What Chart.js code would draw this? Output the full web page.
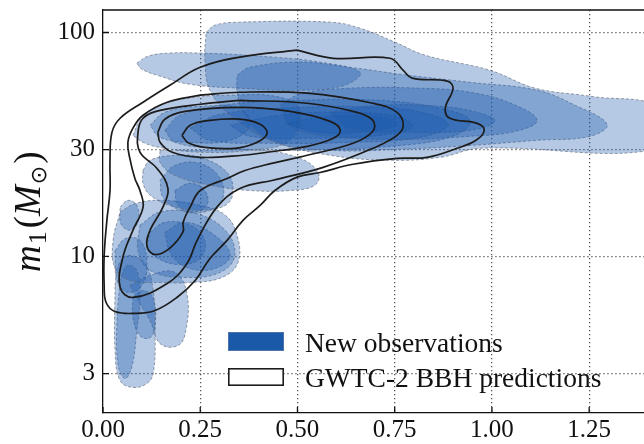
<!DOCTYPE html>
<html>
<head>
<meta charset="utf-8">
<script src="https://cdn.jsdelivr.net/npm/chart.js@4.4.1/dist/chart.umd.min.js"></script>
<style>
  html, body { margin: 0; padding: 0; background: #fff; overflow: hidden; }
  #wrap { width: 644px; height: 444px; }
</style>
</head>
<body>
<div id="wrap"><canvas id="c" width="644" height="444"></canvas></div>
<script>
// Axis ticks
const xTicks = [0, 0.25, 0.5, 0.75, 1.0, 1.25];
const yTicks = [3, 10, 30, 100];
const legendLabels = ['New observations', 'GWTC-2 BBH predictions'];

// New observations: credible regions, [x, m1] vertices of each closed region
const obsWideTail = [[0.265,100],[0.288,107.8],[0.352,111.2],[0.584,111.2],[0.661,104.5],[0.751,90.5],[0.828,79.2],[0.995,67.8],[1.111,56.4],[1.253,51.9],[1.433,45.8],[1.433,30.4],[0.970,30.4],[0.867,27.7],[0.738,26.9],[0.584,28.3],[0.430,33.0],[0.327,42.7],[0.275,55.2],[0.262,75.2]];
const obsUpperStreak = [[0.087,72.9],[0.116,78.4],[0.172,80.9],[0.25,80.9],[0.404,78.4],[0.558,73.7],[0.661,66.4],[0.622,58.1],[0.507,55.2],[0.352,56.4],[0.224,58.7],[0.147,63.8],[0.100,68.5]];
const obsLongEllipse = [[0.345,64.4],[0.378,69.9],[0.507,73.7],[0.635,69.9],[0.764,65.1],[0.944,59.9],[1.116,55.2],[1.214,47.3],[1.296,38.9],[1.253,34.4],[1.116,33.0],[0.944,31.3],[0.764,30.1],[0.584,29.8],[0.430,33.0],[0.365,42.7],[0.345,54.1]];
const obsMidEllipse = [[0.455,47.3],[0.507,53.0],[0.635,56.4],[0.815,56.4],[0.944,54.1],[1.055,47.8],[1.116,40.5],[1.060,36.2],[0.944,34.4],[0.764,33.3],[0.584,34.4],[0.481,38.1]];
const obsRightCore = [[0.584,44.0],[0.712,47.3],[0.867,46.8],[0.970,43.6],[1.008,40.1],[0.944,36.6],[0.790,35.8],[0.635,37.2]];
const obsLeftLobe = [[0.077,34.7],[0.095,40.5],[0.134,46.3],[0.211,50.7],[0.327,52.5],[0.455,51.4],[0.507,44.9],[0.481,33.0],[0.378,29.8],[0.25,29.2],[0.159,30.4],[0.108,32.0]];
const obsBand1 = [[0.159,36.6],[0.198,42.7],[0.327,47.8],[0.507,49.8],[0.712,49.8],[0.867,45.8],[0.944,40.5],[0.905,34.7],[0.764,31.3],[0.507,29.8],[0.301,30.4],[0.185,32.3]];
const obsBand2 = [[0.224,37.4],[0.301,43.1],[0.507,46.3],[0.712,46.3],[0.841,43.1],[0.887,38.5],[0.815,34.0],[0.635,32.3],[0.430,32.0],[0.275,33.0]];
const obsBand3 = [[0.327,38.5],[0.455,42.7],[0.635,44.0],[0.764,41.8],[0.795,37.8],[0.712,34.7],[0.532,33.7],[0.378,34.4]];
const obsBand4 = [[0.468,39.3],[0.584,42.2],[0.712,41.8],[0.756,38.9],[0.687,36.2],[0.558,35.8]];
const obsBandLeft = [[0.121,38.5],[0.159,44.0],[0.25,46.8],[0.352,45.8],[0.378,38.5],[0.327,33.0],[0.224,32.3],[0.147,34.0]];
const obsHanging = [[0.147,29.8],[0.25,29.8],[0.404,29.8],[0.507,27.4],[0.553,23.7],[0.545,20.8],[0.481,19.7],[0.378,19.7],[0.275,20.8],[0.185,23.0],[0.147,26.3]];
const obsLowTop = [[0.103,24.2],[0.121,26.9],[0.190,28.3],[0.25,27.7],[0.319,23.7],[0.334,19.3],[0.314,16.9],[0.25,16.1],[0.172,16.9],[0.121,18.8],[0.103,21.2]];
const obsLowTopMid = [[0.147,21.9],[0.185,25.5],[0.25,26.0],[0.301,22.3],[0.306,17.8],[0.262,15.8],[0.198,16.1],[0.154,18.4]];
const obsLowTopCore = [[0.185,19.7],[0.224,21.2],[0.262,19.7],[0.267,16.9],[0.231,15.8],[0.193,16.9]];
const obsLowWide = [[0.044,15.8],[0.082,17.2],[0.147,17.8],[0.25,16.9],[0.314,15.3],[0.345,12.4],[0.347,9.4],[0.306,8.06],[0.224,7.65],[0.147,7.65],[0.069,7.81],[0.031,8.84],[0.026,11.8]];
const obsLowMid = [[0.095,13.8],[0.147,15.8],[0.237,15.6],[0.314,13.1],[0.339,10.1],[0.301,8.49],[0.211,8.06],[0.121,8.66],[0.090,10.6]];
const obsLowCore = [[0.121,12.8],[0.159,14.2],[0.224,13.8],[0.262,11.8],[0.25,9.8],[0.198,9.2],[0.141,9.8],[0.116,11.0]];
const obsLowCoreRight = [[0.159,12.8],[0.211,14.2],[0.288,12.4],[0.327,10.1],[0.288,8.84],[0.224,8.84],[0.177,10.1]];
const obsLowSmall = [[0.044,16.6],[0.064,17.8],[0.087,16.9],[0.090,14.2],[0.069,13.1],[0.046,14.0]];
const obsTallLight = [[0.031,7.42],[0.039,9.1],[0.064,10.1],[0.108,9.3],[0.129,7.05],[0.134,4.43],[0.129,3.0],[0.113,2.71],[0.077,2.60],[0.044,2.79],[0.031,3.80]];
const obsLowSpread = [[0.069,7.42],[0.121,8.23],[0.185,8.49],[0.216,6.77],[0.213,4.67],[0.193,4.00],[0.147,4.08],[0.121,5.17],[0.090,6.36]];
const obsNarrowStrip = [[0.044,7.81],[0.062,9.1],[0.087,8.66],[0.095,6.36],[0.087,4.67],[0.075,3.26],[0.057,2.85],[0.039,3.26],[0.036,5.17]];
const obsStripCore = [[0.077,6.56],[0.103,7.05],[0.129,6.49],[0.134,4.91],[0.121,4.34],[0.095,4.43],[0.077,5.34]];
const obsLowLeft = [[0.031,10.6],[0.057,12.0],[0.095,11.8],[0.113,9.4],[0.100,7.42],[0.064,6.91],[0.036,7.81]];

// GWTC-2 BBH predictions: density contour levels, outermost first
const predLevel1 = [[0.499,83.4],[0.592,76.7],[0.738,76.7],[0.772,67.8],[0.795,62.5],[0.885,60.6],[0.900,56.4],[0.880,45.8],[0.892,41.4],[0.962,39.3],[0.980,36.6],[0.959,33.0],[0.910,30.4],[0.833,27.7],[0.756,27.4],[0.643,25.8],[0.558,23.7],[0.499,22.6],[0.442,19.7],[0.404,16.9],[0.360,14.5],[0.319,11.8],[0.275,9.8],[0.237,7.81],[0.190,6.56],[0.134,5.74],[0.082,5.57],[0.031,5.68],[0.008,6.23],[0.003,7.42],[0.003,10.1],[0.010,14.5],[0.018,19.7],[0.018,26.9],[0.023,35.8],[0.044,41.4],[0.103,48.8],[0.172,58.1],[0.25,69.9],[0.352,77.6]];
const predLevel2 = [[0.25,52.5],[0.352,54.1],[0.525,53.6],[0.694,48.3],[0.756,44.0],[0.772,38.5],[0.756,34.7],[0.694,30.4],[0.566,25.0],[0.437,21.9],[0.352,20.1],[0.293,16.6],[0.242,11.8],[0.216,9.3],[0.165,7.57],[0.077,6.56],[0.044,7.27],[0.051,9.9],[0.077,13.1],[0.103,16.6],[0.095,19.7],[0.082,22.3],[0.069,27.4],[0.064,32.3],[0.077,37.4],[0.103,42.7],[0.165,48.8]];
const predLevel3 = [[0.352,49.8],[0.525,48.3],[0.653,44.0],[0.694,40.5],[0.694,36.2],[0.643,32.0],[0.525,28.3],[0.437,26.1],[0.365,24.2],[0.319,22.3],[0.25,19.7],[0.224,16.6],[0.206,14.2],[0.206,12.9],[0.172,10.9],[0.134,10.2],[0.113,11.1],[0.121,13.1],[0.154,16.6],[0.167,20.1],[0.139,24.7],[0.095,29.2],[0.090,35.8],[0.103,41.4],[0.147,44.9],[0.25,47.8]];
const predLevel4 = [[0.141,35.8],[0.159,41.0],[0.211,44.4],[0.352,46.3],[0.481,44.4],[0.584,40.1],[0.610,36.6],[0.592,33.7],[0.525,31.0],[0.422,29.2],[0.360,28.3],[0.25,27.7],[0.178,29.2],[0.147,32.3]];
const predLevel5 = [[0.203,34.7],[0.224,38.5],[0.275,40.5],[0.352,41.0],[0.404,38.9],[0.422,35.4],[0.391,32.0],[0.339,30.4],[0.262,30.7],[0.219,32.2]];

const obsRegions = [obsWideTail, obsUpperStreak, obsLongEllipse, obsMidEllipse, obsRightCore,
  obsLeftLobe, obsBand1, obsBand2, obsBand3, obsBand4, obsBandLeft, obsHanging,
  obsLowTop, obsLowTopMid, obsLowTopCore, obsLowWide, obsLowMid, obsLowCore, obsLowCoreRight,
  obsLowSmall, obsTallLight, obsLowSpread, obsNarrowStrip, obsStripCore, obsLowLeft];
const predLevels = [predLevel1, predLevel2, predLevel3, predLevel4, predLevel5];

const OBS_FILL = 'rgba(24, 88, 170, 0.32)';
const OBS_EDGE = 'rgba(100, 110, 128, 0.75)';
const OBS_SOLID = '#1a58a8';
const PRED_LINE = '#1c1c1c';
const SERIF = '"Liberation Serif", "DejaVu Serif", serif';

const closed = pts => pts.concat([pts[0]]).map(([x, y]) => ({ x, y }));

const datasets = [];
predLevels.forEach((pts, i) => datasets.push({
  label: i === 0 ? legendLabels[1] : '',
  data: closed(pts),
  borderColor: PRED_LINE,
  borderWidth: 1.7,
  fill: false,
  tension: 0.4,
  pointRadius: 0,
  order: 0
}));
obsRegions.forEach((pts, i) => datasets.push({
  label: i === 0 ? legendLabels[0] : '',
  data: closed(pts),
  backgroundColor: OBS_FILL,
  borderColor: OBS_EDGE,
  borderWidth: 0.9,
  borderDash: [3, 2],
  fill: 'shape',
  tension: 0.4,
  pointRadius: 0,
  order: 1
}));

// Frame top edge, inward tick marks, axis title and legend
const decorations = {
  id: 'decorations',
  afterDraw(chart) {
    const { ctx, chartArea: a, scales: { x, y } } = chart;
    ctx.save();
    ctx.strokeStyle = '#111';
    ctx.lineWidth = 1.3;
    ctx.beginPath();
    ctx.moveTo(a.left, a.top);
    ctx.lineTo(a.right, a.top);
    xTicks.forEach(v => {
      const p = x.getPixelForValue(v);
      ctx.moveTo(p, a.bottom);
      ctx.lineTo(p, a.bottom - 6);
    });
    yTicks.forEach(v => {
      const p = y.getPixelForValue(v);
      ctx.moveTo(a.left, p);
      ctx.lineTo(a.left + 6, p);
    });
    ctx.stroke();

    // y axis title: m_1 (M_sun)
    ctx.save();
    ctx.translate(40, 272);
    ctx.rotate(-Math.PI / 2);
    ctx.fillStyle = '#111';
    ctx.textBaseline = 'alphabetic';
    let cx = 0;
    const piece = (txt, font, dy) => {
      ctx.font = font;
      ctx.fillText(txt, cx, dy);
      cx += ctx.measureText(txt).width;
    };
    piece('m', 'italic 37px ' + SERIF, 0);
    cx += 1;
    piece('1', '26px ' + SERIF, 6);
    cx += 3;
    piece('(', '37px ' + SERIF, 0);
    piece('M', 'italic 37px ' + SERIF, 0);
    cx += 1;
    piece('\u2299', '22px "DejaVu Sans"', 6);
    cx += 2;
    piece(')', '37px ' + SERIF, 0);
    ctx.restore();

    // legend
    const lx = a.left + 125;
    ctx.fillStyle = OBS_SOLID;
    ctx.fillRect(lx, a.top + 322, 56, 19);
    ctx.strokeStyle = 'rgba(90,120,170,0.8)';
    ctx.lineWidth = 1;
    ctx.strokeRect(lx + 0.5, a.top + 322.5, 55, 18);
    ctx.fillStyle = '#fff';
    ctx.fillRect(lx, a.top + 358, 56, 18);
    ctx.strokeStyle = PRED_LINE;
    ctx.lineWidth = 1.6;
    ctx.strokeRect(lx + 0.8, a.top + 358.8, 54.4, 16.4);
    ctx.fillStyle = '#111';
    ctx.font = '27.5px ' + SERIF;
    ctx.textBaseline = 'alphabetic';
    ctx.fillText(legendLabels[0], lx + 77, a.top + 342);
    ctx.fillText(legendLabels[1], lx + 77, a.top + 377);
    ctx.restore();
  }
};

new Chart(document.getElementById('c'), {
  type: 'line',
  data: { datasets },
  plugins: [decorations],
  options: {
    responsive: false,
    devicePixelRatio: 1,
    animation: false,
    layout: { padding: { top: 10, right: 0, left: 0, bottom: 0 } },
    plugins: { legend: { display: false }, tooltip: { enabled: false } },
    scales: {
      x: {
        type: 'linear',
        min: 0,
        max: 1.391,
        afterBuildTicks: s => { s.ticks = xTicks.map(v => ({ value: v })); },
        afterFit: s => { s.height = 31; s.paddingLeft = 0; s.paddingRight = 0; },
        ticks: {
          callback: v => Number(v).toFixed(2),
          font: { family: SERIF, size: 25 },
          color: '#111',
          padding: 2,
          maxRotation: 0,
          autoSkip: false
        },
        grid: {
          drawTicks: false,
          color: c => (c.tick && c.tick.value === 0) ? 'rgba(0,0,0,0)' : 'rgba(70,70,70,0.9)',
          lineWidth: 1.3
        },
        border: { display: true, color: '#111', width: 1.3, dash: [1.3, 2.7] }
      },
      y: {
        type: 'logarithmic',
        min: 2,
        max: 126,
        afterBuildTicks: s => { s.ticks = yTicks.map(v => ({ value: v })); },
        afterFit: s => { s.width = 103; s.paddingTop = 0; s.paddingBottom = 0; },
        ticks: {
          callback: v => String(v),
          font: { family: SERIF, size: 25 },
          color: '#111',
          padding: 8,
          autoSkip: false
        },
        grid: {
          drawTicks: false,
          color: 'rgba(70,70,70,0.9)',
          lineWidth: 1.3
        },
        border: { display: true, color: '#111', width: 1.3, dash: [1.3, 2.7] }
      }
    }
  }
});
</script>
</body>
</html>
